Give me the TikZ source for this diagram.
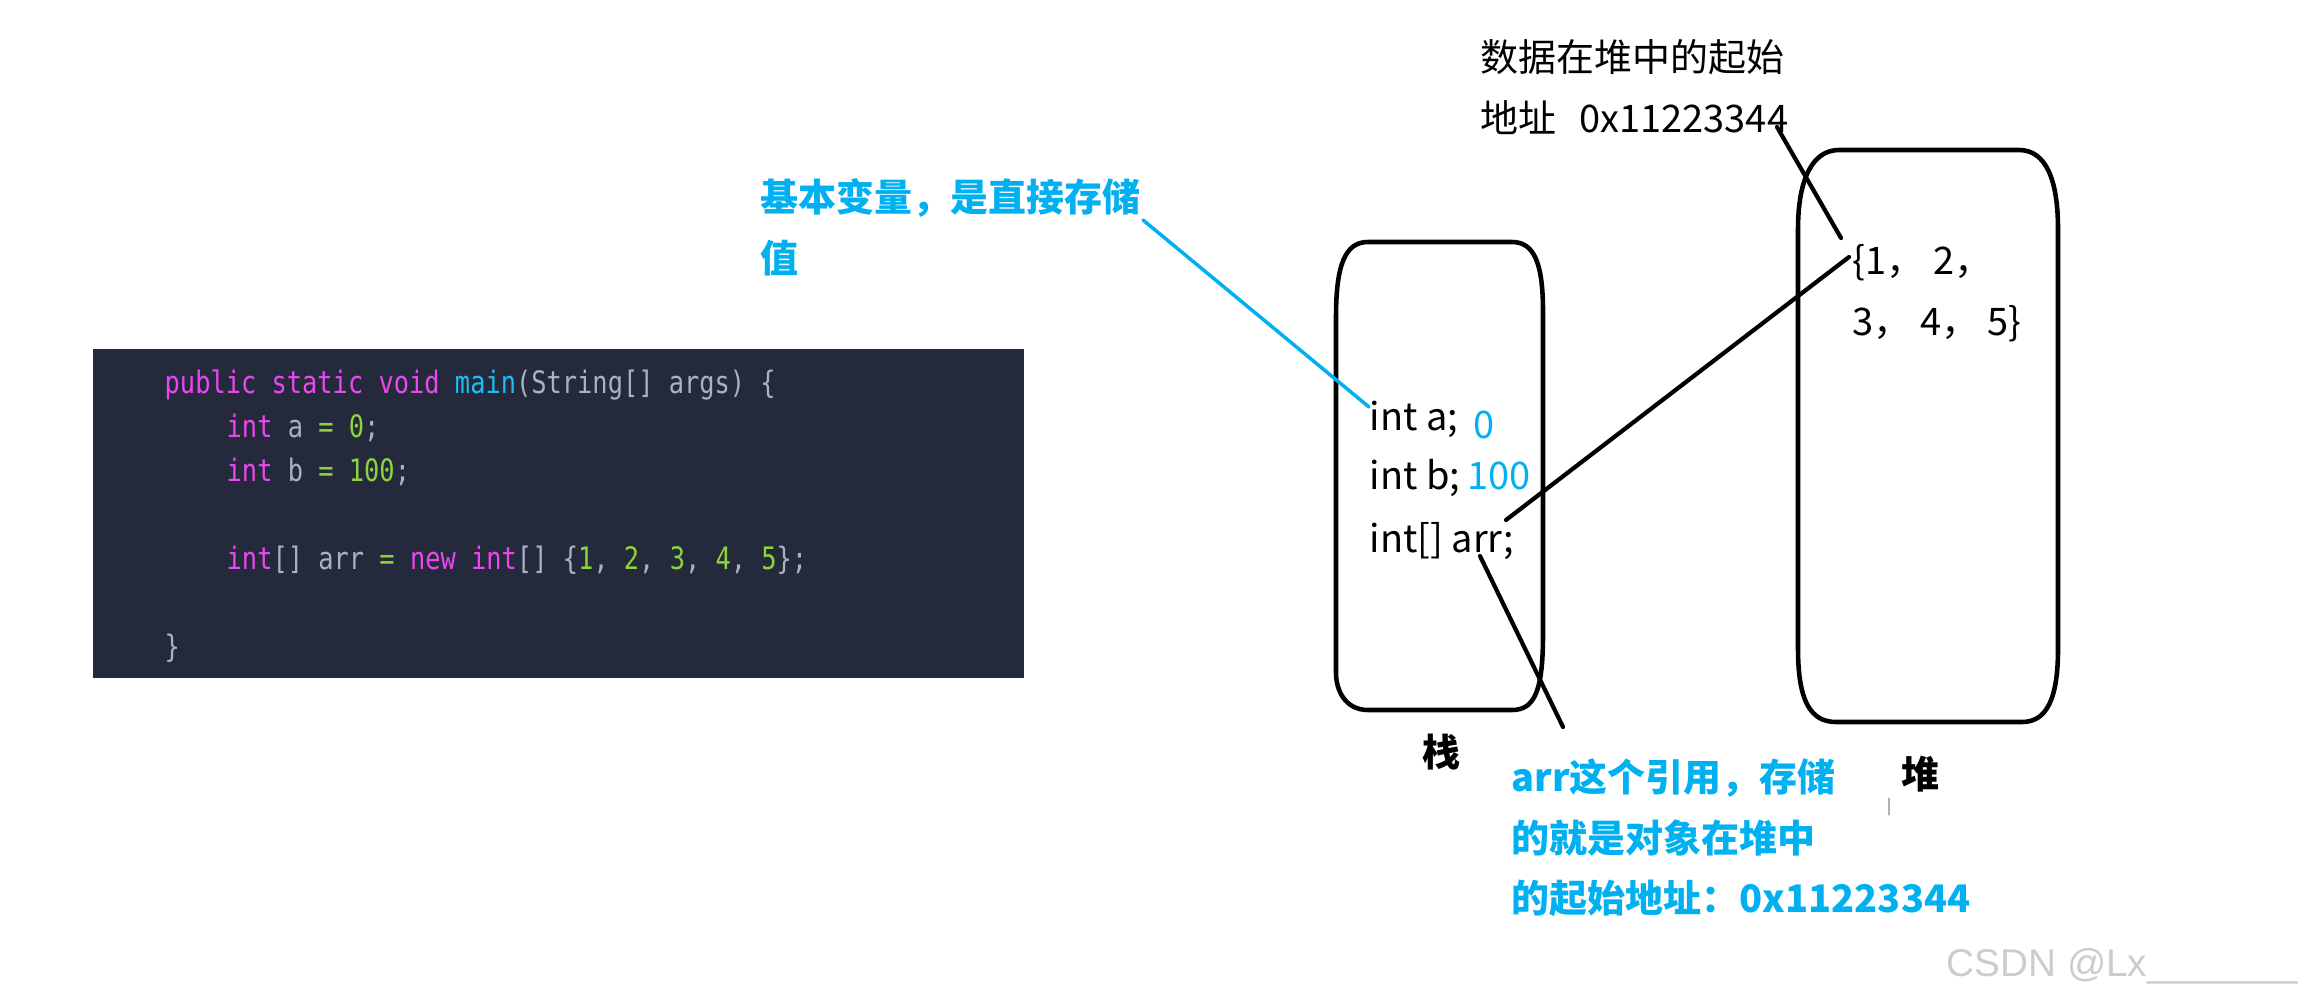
\documentclass[tikz,border=0pt]{standalone}
\usepackage{fontspec}
\setmainfont{Noto Sans CJK SC}
\newfontfamily\codefont[FakeStretch=0.82]{DejaVu Sans Mono}
\newfontfamily\wmfont{Liberation Sans}
\definecolor{codebg}{RGB}{36,42,59}
\definecolor{codekw}{RGB}{236,70,240}
\definecolor{codefn}{RGB}{25,190,245}
\definecolor{codetxt}{RGB}{168,178,198}
\definecolor{codenum}{RGB}{140,212,60}
\definecolor{annblue}{RGB}{0,176,240}
\newcommand\ckw[1]{\textcolor{codekw}{#1}}
\newcommand\cfn[1]{\textcolor{codefn}{#1}}
\newcommand\cnum[1]{\textcolor{codenum}{#1}}
\begin{document}
\begin{tikzpicture}[x=0.01cm,y=-0.01cm,line join=round,line cap=round,
	code/.style={anchor=base west,inner sep=0,font=\codefont\fontsize{8.8}{10}\selectfont,text=codetxt},
	txt/.style={anchor=north west,inner sep=0,align=left,font=\fontsize{10.8}{17.2}\selectfont},
	note/.style={txt,text=annblue,font=\bfseries\fontsize{10.8}{17.2}\selectfont},
	membox/.style={draw,line width=1.3pt},
	link/.style={draw,line width=1.2pt}]
	\useasboundingbox (0,0) rectangle (2318,1006);
	% code panel
	\fill[codebg] (93,349) rectangle (1024,678);
	\node[code] (l1) at (164,393) {\ckw{public static void} \cfn{main}(String[] args) \{};
	\node[code] (l2) at (226,437) {\ckw{int} a \cnum{=} \cnum{0};};
	\node[code] (l3) at (226,481) {\ckw{int} b \cnum{=} \cnum{100};};
	\node[code] (l4) at (226,569) {\ckw{int}[] arr \cnum{=} \ckw{new int}[] \{\cnum{1}, \cnum{2}, \cnum{3}, \cnum{4}, \cnum{5}\};};
	\node[code] (l5) at (164,657) {\}};
	% stack and heap
	\draw[membox] (1336,317) .. controls (1336,265) and (1345,242) .. (1368,242) -- (1512,242)
		.. controls (1535,242) and (1543,265) .. (1543,312) -- (1543,634)
		.. controls (1543,690) and (1535,710) .. (1512,710) -- (1368,710)
		.. controls (1345,710) and (1336,690) .. (1336,673) -- cycle;
	\draw[membox] (1798,229) .. controls (1798,180) and (1812,150) .. (1839,150) -- (2019,150)
		.. controls (2046,150) and (2058,180) .. (2058,229) -- (2058,649)
		.. controls (2058,700) and (2046,722) .. (2022,722) -- (1836,722)
		.. controls (1810,722) and (1798,700) .. (1798,649) -- cycle;
	\node[txt] (inta) at (1369,400) {int a;};
	\node[txt] (intb) at (1369,459) {int b;};
	\node[txt] (arr) at (1369,522) {int[] arr;};
	\node[txt,text=annblue] (vala) at (1473,410) {0};
	\node[txt,text=annblue] (valb) at (1467,461) {100};
	\node[txt,font=\bfseries\fontsize{10.8}{17.2}\selectfont] (stacklbl) at (1422,733) {栈};
	\node[txt,font=\bfseries\fontsize{10.8}{17.2}\selectfont] (heaplbl) at (1901,755) {堆};
	\node[txt] (heapdata) at (1852,244) {\{1， 2，\\3， 4， 5\}};
	\node[txt] (addr) at (1480,39) {数据在堆中的起始\\地址\hspace{0.6em}0x11223344};
	% notes
	\node[note] (basic) at (760,178) {基本变量，是直接存储\\值};
	\node[note] (refnote) at (1511,758) {arr这个引用，存储\\的就是对象在堆中\\的起始地址：0x11223344};
	\node[anchor=west,inner sep=0,font=\wmfont\fontsize{11}{13}\selectfont,text=gray!40] (wm) at (1946,966) {CSDN @Lx\_\_\_\_\_\_\_};
	\draw[gray!60,line width=0.3pt] (1889,798) -- (1889,815);
	% connectors
	\coordinate (basictip) at (1143,220);
	\coordinate (atip) at (1369,407);
	\coordinate (addrtip) at (1777,127);
	\coordinate (datatip) at (1841,238);
	\coordinate (datatip2) at (1849,257);
	\coordinate (arrtip) at (1506,520);
	\coordinate (arrtip2) at (1480,556);
	\coordinate (reftip) at (1563,727);
	\draw[link,annblue,line width=1pt] (basictip) -- (atip);
	\draw[link] (addrtip) -- (datatip);
	\draw[link] (datatip2) -- (arrtip);
	\draw[link] (arrtip2) -- (reftip);
\end{tikzpicture}
\end{document}
